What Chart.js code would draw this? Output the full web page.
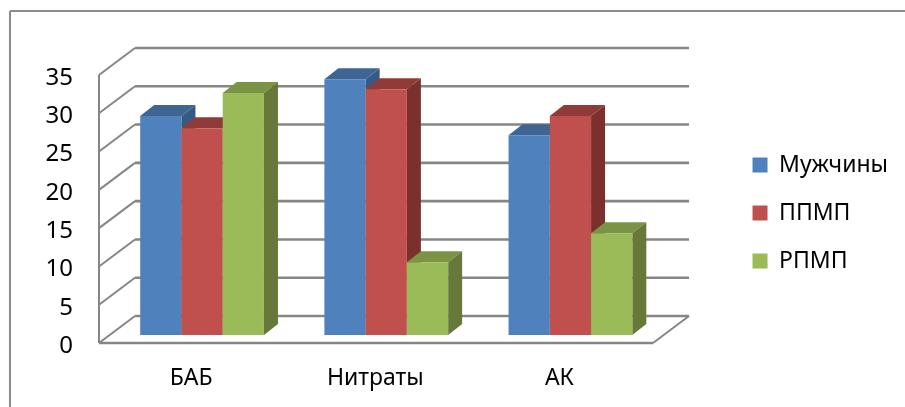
<!DOCTYPE html>
<html>
<head>
<meta charset="utf-8">
<style>
  html, body { margin: 0; padding: 0; background: #fff; }
  canvas { display: block; }
</style>
<script src="https://cdn.jsdelivr.net/npm/chart.js@4"></script>
</head>
<body>
<canvas id="chart" width="905" height="407"></canvas>
<script>
// Data
const categories = ['БАБ', 'Нитраты', 'АК'];
const seriesNames = ['Мужчины', 'ППМП', 'РПМП'];
const men = [28.6, 33.4, 26.1];
const ppmp = [27.0, 32.1, 28.6];
const rpmp = [31.6, 9.5, 13.3];

const frontColors = ['#4f81bd', '#c0504d', '#9bbb59'];
const topColors = ['#3f6593', '#913b39', '#7a9344'];
const sideColors = ['#375a85', '#7c302e', '#66793a'];
const gridColor = '#868686';
const fontName = '"Noto Sans", sans-serif';

// Fake 3D: walls sit around the plane the bars stand on
const wallFront = { x: -11, y: 8 };
const wallBack = { x: 25, y: -19 };
const barDepth = { x: 14, y: -11 };

const line = (ctx, x1, y1, x2, y2, width) => {
    ctx.lineWidth = width;
    ctx.beginPath();
    ctx.moveTo(x1, y1);
    ctx.lineTo(x2, y2);
    ctx.stroke();
};

const poly = (ctx, color, pts) => {
    ctx.fillStyle = color;
    ctx.beginPath();
    pts.forEach((p, i) => i ? ctx.lineTo(p[0], p[1]) : ctx.moveTo(p[0], p[1]));
    ctx.closePath();
    ctx.fill();
};

const depthPlugin = {
    id: 'depth',
    afterLayout(chart) {
        // legend sits further right and higher than the layout would put it
        const legend = chart.legend;
        legend.left += 65;
        legend.right += 65;
        legend.top -= 24;
        legend.bottom -= 24;
    },
    beforeDatasetsDraw(chart) {
        const ctx = chart.ctx;
        const xs = chart.scales.x;
        const ys = chart.scales.y;
        const left = xs.left;
        const right = xs.right + 1.5;

        ctx.save();

        // outer frame, cut off by the picture on the right and bottom
        ctx.strokeStyle = '#8c8c8c';
        line(ctx, 10, 407, 10, 11, 2);
        line(ctx, 10, 11, 905, 11, 2);

        ctx.strokeStyle = gridColor;
        ys.ticks.forEach(t => {
            const p = ys.getPixelForValue(t.value);
            line(ctx, left + wallFront.x, p + wallFront.y, left + wallBack.x, p + wallBack.y, 2);
            if (t.value > 0) {
                line(ctx, left + wallBack.x, p + wallBack.y, right + wallBack.x, p + wallBack.y, 2.6);
            }
        });

        // axes and floor
        const base = ys.getPixelForValue(0);
        const top = ys.getPixelForValue(35);
        line(ctx, left + wallFront.x, top + wallFront.y, left + wallFront.x, base + wallFront.y, 2);
        line(ctx, left + wallFront.x, base + wallFront.y, right + wallFront.x, base + wallFront.y, 2.6);
        line(ctx, right + wallFront.x, base + wallFront.y, right + wallBack.x, base + wallBack.y, 2);
        line(ctx, left + wallBack.x, base + wallBack.y, right + wallBack.x, base + wallBack.y, 2.6);

        // painter's order: first series at the back, so later fronts cover earlier sides
        chart.data.datasets.forEach((ds, i) => {
            const meta = chart.getDatasetMeta(i);
            meta.data.forEach(bar => {
                const l = bar.x - bar.width / 2;
                const r = bar.x + bar.width / 2;
                const dx = barDepth.x;
                const dy = barDepth.y;
                poly(ctx, topColors[i], [[l, bar.y], [l + dx, bar.y + dy], [r + dx, bar.y + dy], [r, bar.y]]);
                poly(ctx, sideColors[i], [[r, bar.y], [r + dx, bar.y + dy], [r + dx, bar.base + dy], [r, bar.base]]);
            });
            meta.controller.draw();
        });

        ctx.restore();
        return false; // datasets already drawn above
    }
};

new Chart(document.getElementById('chart'), {
    type: 'bar',
    data: {
        labels: categories,
        datasets: [men, ppmp, rpmp].map((values, i) => ({
            label: seriesNames[i],
            data: values,
            backgroundColor: frontColors[i],
            borderWidth: 0,
            barPercentage: 1,
            categoryPercentage: 0.672
        }))
    },
    plugins: [depthPlugin],
    options: {
        responsive: false,
        animation: false,
        layout: { padding: { top: 67, right: 72, left: 0, bottom: 0 } },
        plugins: {
            tooltip: { enabled: false },
            legend: {
                position: 'right',
                labels: {
                    boxWidth: 15,
                    boxHeight: 15,
                    padding: 25,
                    color: '#000',
                    font: { family: fontName, size: 23 }
                }
            }
        },
        scales: {
            x: {
                grid: { display: false },
                border: { display: false },
                ticks: {
                    color: '#000',
                    padding: 22,
                    labelOffset: -11,
                    maxRotation: 0,
                    font: { family: fontName, size: 23 }
                },
                afterFit(s) {
                    s.height = 72;
                    s.paddingLeft = 0;
                    s.paddingRight = 0;
                }
            },
            y: {
                min: 0,
                max: 35,
                grid: { display: false },
                border: { display: false },
                ticks: {
                    stepSize: 5,
                    color: '#000',
                    padding: 29,
                    labelOffset: 11,
                    font: { family: fontName, size: 24 }
                },
                afterFit(s) {
                    s.width = 110;
                    s.paddingTop = 0;
                    s.paddingBottom = 0;
                }
            }
        }
    }
});
</script>
</body>
</html>
